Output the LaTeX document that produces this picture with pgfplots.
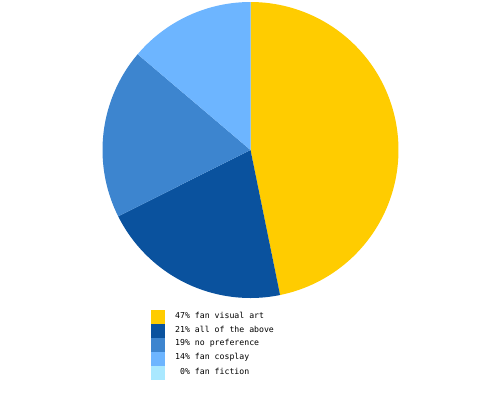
\documentclass[border=0pt]{standalone}
\usepackage{pgfplots}
\pgfplotsset{compat=1.18}
\usepackage{fontspec}
\setmainfont{DejaVu Sans Mono}
\definecolor{cA}{HTML}{FFCC00}
\definecolor{cB}{HTML}{0A529E}
\definecolor{cC}{HTML}{3D85CF}
\definecolor{cD}{HTML}{6DB5FF}
\definecolor{cE}{HTML}{A9E8FF}
% slice values (percent)
\def\vA{46.8}
\def\vB{20.8}
\def\vC{18.6}
\def\vD{13.8}
\def\vE{0.0}
\def\cx{250.5}
\def\cy{150}
\def\rr{148}
\begin{document}
\begin{tikzpicture}
\pgfmathsetmacro{\aA}{90}
\pgfmathsetmacro{\aB}{\aA-3.6*\vA}
\pgfmathsetmacro{\aC}{\aB-3.6*\vB}
\pgfmathsetmacro{\aD}{\aC-3.6*\vC}
\pgfmathsetmacro{\aE}{\aD-3.6*\vD}
\begin{axis}[
  width=500pt, height=400pt, scale only axis,
  xmin=0, xmax=500, ymin=0, ymax=400, y dir=reverse,
  hide axis, clip=false,
]
\addplot[fill=cA, draw=none, domain=\aB:\aA, samples=90] ({\cx+\rr*cos(x)},{\cy-\rr*sin(x)}) -- (\cx,\cy) -- cycle;
\addplot[fill=cB, draw=none, domain=\aC:\aB, samples=60] ({\cx+\rr*cos(x)},{\cy-\rr*sin(x)}) -- (\cx,\cy) -- cycle;
\addplot[fill=cC, draw=none, domain=\aD:\aC, samples=60] ({\cx+\rr*cos(x)},{\cy-\rr*sin(x)}) -- (\cx,\cy) -- cycle;
\addplot[fill=cD, draw=none, domain=\aE:\aD, samples=60] ({\cx+\rr*cos(x)},{\cy-\rr*sin(x)}) -- (\cx,\cy) -- cycle;
% legend
\fill[cA] (151,310) rectangle (165,324);
\fill[cB] (151,324) rectangle (165,338);
\fill[cC] (151,338) rectangle (165,352);
\fill[cD] (151,352) rectangle (165,366);
\fill[cE] (151,366) rectangle (165,380);
\begin{scope}[every node/.style={anchor=west, inner sep=0pt, font=\fontsize{8.2}{10}\selectfont}]
\node at (175,315) {47\% fan visual art};
\node at (175,329) {21\% all of the above};
\node at (175,343) {19\% no preference};
\node at (175,357) {14\% fan cosplay};
\node at (175,371) {\phantom{0}0\% fan fiction};
\end{scope}
\end{axis}
\pgfresetboundingbox
\path (current axis.south west) rectangle (current axis.north east);
\end{tikzpicture}
\end{document}
